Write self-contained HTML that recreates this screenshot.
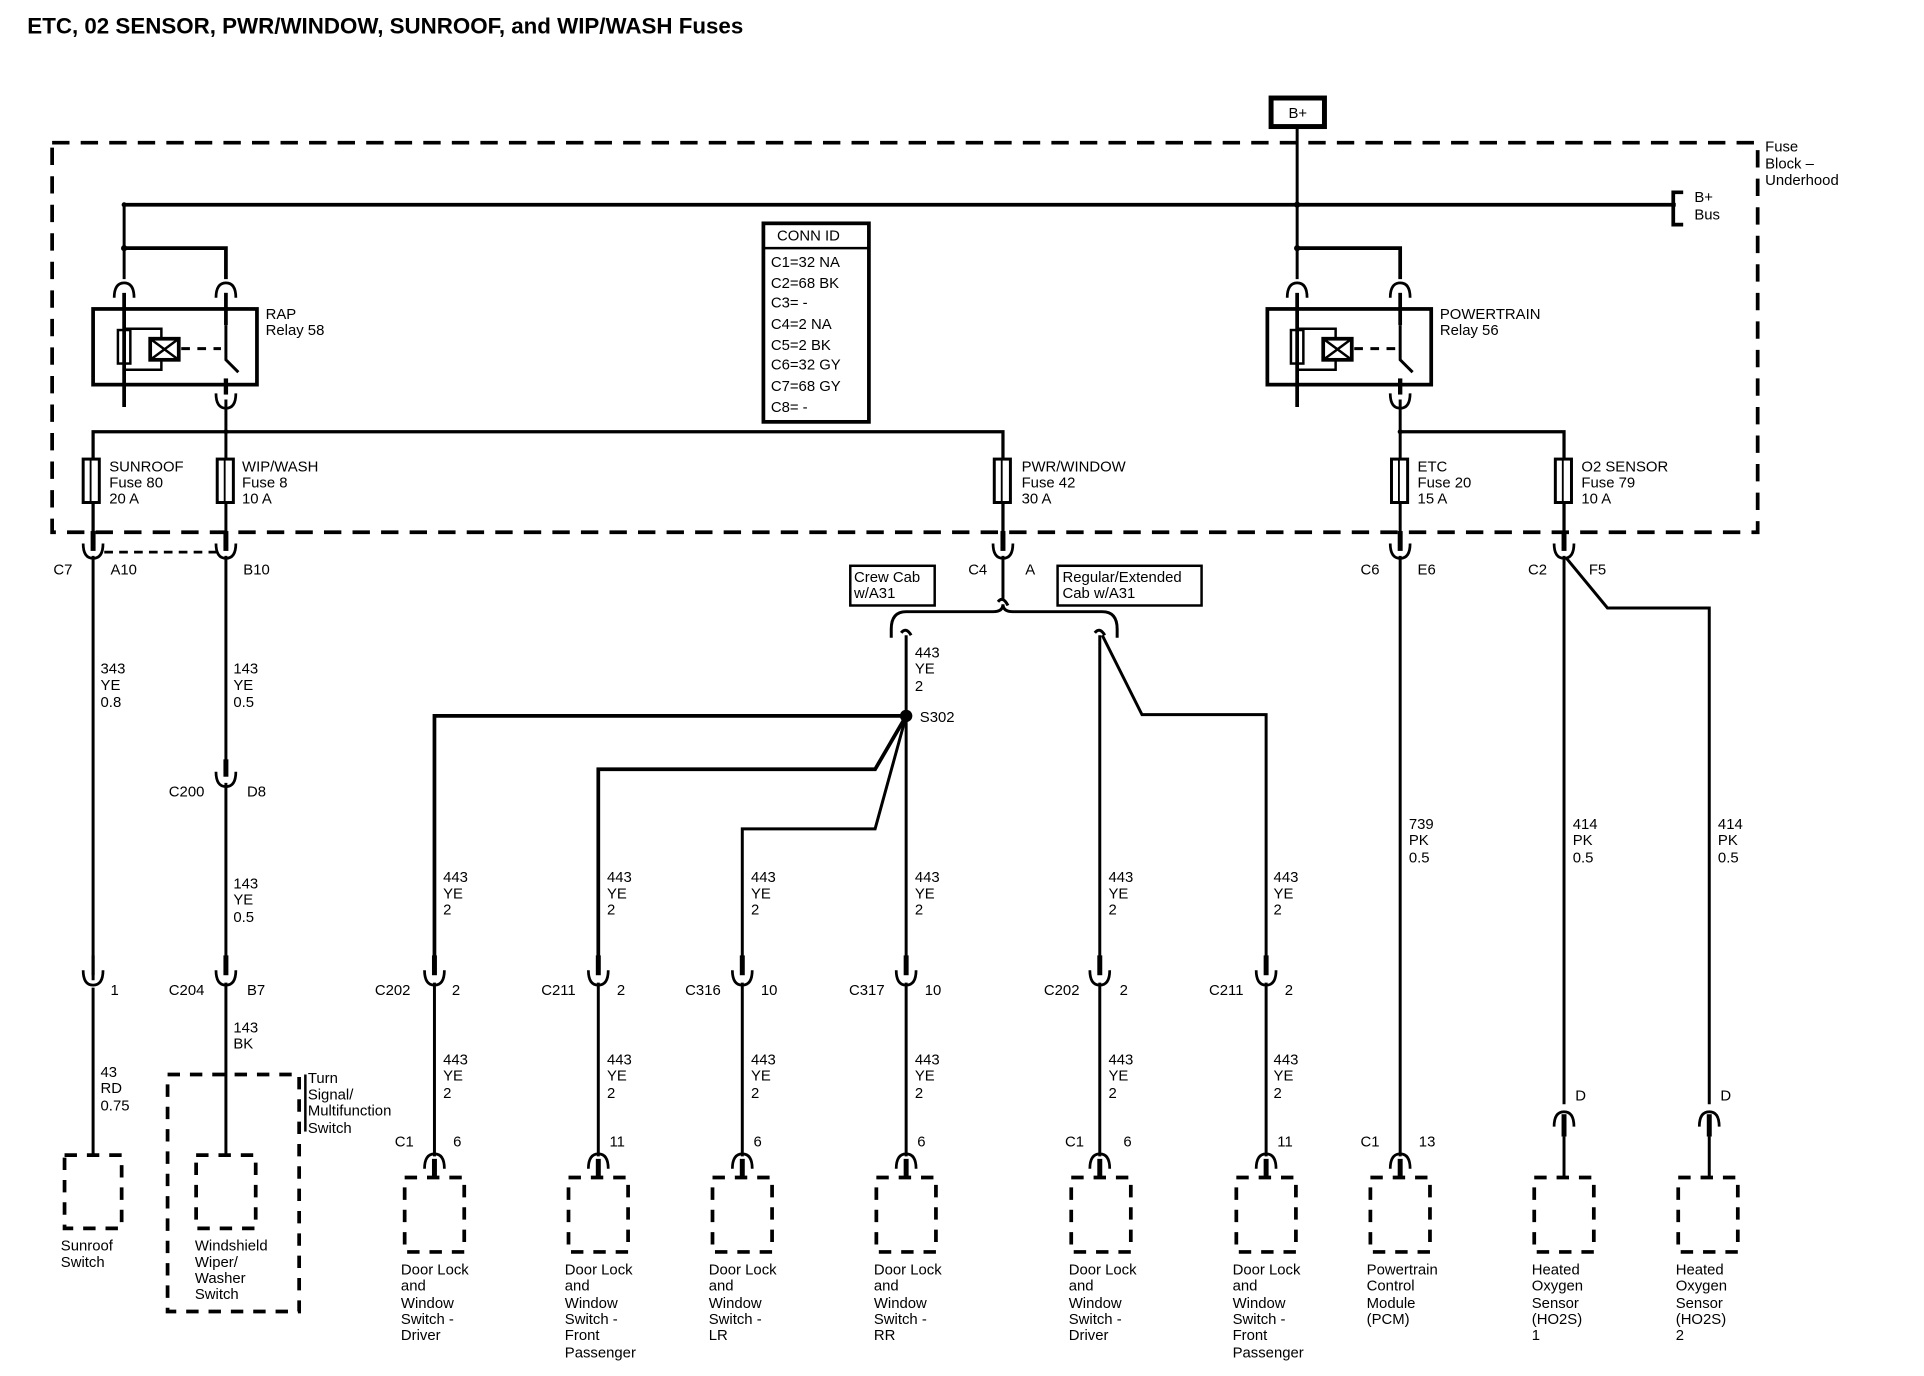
<!DOCTYPE html>
<html><head><meta charset="utf-8"><style>
html,body{margin:0;padding:0;background:#fff;}
svg{display:block;}
text{font-family:"Liberation Sans",sans-serif;font-size:12px;fill:#000;}
</style></head><body>
<svg width="1924" height="1376" viewBox="0 0 1550 1109" preserveAspectRatio="none" xmlns="http://www.w3.org/2000/svg">
<defs>
<g id="cup"><path d="M-8,-8 Q-8,4 0,4 Q8,4 8,-8" fill="none" stroke="#000" stroke-width="2.2"/></g>
<g id="cap"><path d="M-8,8 Q-8,-4 0,-4 Q8,-4 8,8" fill="none" stroke="#000" stroke-width="2.2"/></g>
</defs>
<text x="22" y="27" style="font-size:18px;font-weight:bold">ETC, 02 SENSOR, PWR/WINDOW, SUNROOF, and WIP/WASH Fuses</text>

<!-- B+ -->
<rect x="1024" y="79" width="43" height="23" fill="#fff" stroke="#000" stroke-width="4"/>
<text x="1038" y="95">B+</text>
<rect x="42" y="115" width="1374" height="314" fill="none" stroke="#000" stroke-width="3" stroke-dasharray="14,9"/>
<text x="1422" y="122">Fuse</text><text x="1422" y="136">Block –</text><text x="1422" y="149">Underhood</text>

<g stroke="#000" stroke-width="2.4" fill="none">
<line x1="1045" y1="103" x2="1045" y2="225"/>
<line x1="100" y1="165" x2="1350" y2="165" stroke-width="3"/>
<path d="M1356,155 H1348 V181 H1356" stroke-width="3"/>
<!-- left relay -->
<line x1="100" y1="165" x2="100" y2="225"/>
<path d="M100,200 H182 V225" stroke-width="3"/>
<line x1="100" y1="236" x2="100" y2="328" stroke-width="3"/>
<line x1="182" y1="236" x2="182" y2="262" stroke-width="3"/>
<path d="M182,262 L182,290 L192,300" />
<line x1="182" y1="305" x2="182" y2="318" stroke-width="3.5"/>
<rect x="75" y="249" width="132" height="61" stroke-width="3"/>
<rect x="95" y="266" width="10" height="27" stroke-width="2"/>
<path d="M100,265 H130 V273 M130,290 V298 H100" stroke-width="2"/>
<rect x="121" y="273" width="23" height="17" stroke-width="3"/>
<path d="M121,273 L144,290 M144,273 L121,290" stroke-width="2"/>
<line x1="146" y1="281" x2="178" y2="281" stroke-dasharray="7,6"/>
<!-- right relay -->
<path d="M1045,200 H1128 V225" stroke-width="3"/>
<line x1="1045" y1="236" x2="1045" y2="328" stroke-width="3"/>
<line x1="1128" y1="236" x2="1128" y2="262" stroke-width="3"/>
<path d="M1128,262 L1128,290 L1138,300"/>
<line x1="1128" y1="305" x2="1128" y2="318" stroke-width="3.5"/>
<rect x="1021" y="249" width="132" height="61" stroke-width="3"/>
<rect x="1040" y="266" width="10" height="27" stroke-width="2"/>
<path d="M1045,265 H1076 V273 M1076,290 V298 H1045" stroke-width="2"/>
<rect x="1066" y="273" width="23" height="17" stroke-width="3"/>
<path d="M1066,273 L1089,290 M1089,273 L1066,290" stroke-width="2"/>
<line x1="1091" y1="281" x2="1124" y2="281" stroke-dasharray="7,6"/>
<!-- buses -->
<path d="M75,440 V348 H808 V440" stroke-width="2.6"/>
<line x1="182" y1="322" x2="182" y2="440"/>
<line x1="1128" y1="322" x2="1128" y2="440"/>
<path d="M1128,348 H1260 V440" stroke-width="2.6"/>
<!-- fuses -->
<g fill="#fff" stroke-width="2.4">
<rect x="67" y="370" width="13" height="35"/><rect x="175" y="370" width="13" height="35"/>
<rect x="801" y="370" width="13" height="35"/><rect x="1121" y="370" width="13" height="35"/><rect x="1253" y="370" width="13" height="35"/>
</g>
<g stroke-width="1.5"><line x1="73" y1="370" x2="73" y2="405"/><line x1="181" y1="370" x2="181" y2="405"/><line x1="807" y1="370" x2="807" y2="405"/><line x1="1127" y1="370" x2="1127" y2="405"/><line x1="1259" y1="370" x2="1259" y2="405"/></g>
<!-- stubs at block connectors -->
<g stroke-width="4"><line x1="75" y1="428" x2="75" y2="444"/><line x1="182" y1="428" x2="182" y2="444"/><line x1="808" y1="428" x2="808" y2="444"/><line x1="1128" y1="428" x2="1128" y2="444"/><line x1="1260" y1="428" x2="1260" y2="444"/></g>
<line x1="84" y1="445" x2="176" y2="445" stroke-dasharray="7,5" stroke-width="2.2"/>
<!-- down wires -->
<line x1="75" y1="448" x2="75" y2="790"/>
<line x1="75" y1="796" x2="75" y2="932"/>
<line x1="182" y1="448" x2="182" y2="625"/>
<line x1="182" y1="631" x2="182" y2="785"/>
<line x1="182" y1="792" x2="182" y2="932"/>
<line x1="182" y1="612" x2="182" y2="626" stroke-width="4"/>
<line x1="182" y1="770" x2="182" y2="786" stroke-width="4"/>
<line x1="75" y1="770" x2="75" y2="786" stroke-width="2.5"/>
<line x1="808" y1="448" x2="808" y2="484"/>
<path d="M804,485 Q808,480 812,488" />
<path d="M718,514 V507 Q718,493 730,493 H800 Q808,493 808,487 Q808,493 816,493 H888 Q900,493 900,507 V514"/>
<path d="M726,510 Q730,505 734,512"/>
<path d="M882,510 Q886,505 890,512"/>
<line x1="730" y1="512" x2="730" y2="785"/>
<line x1="886" y1="512" x2="886" y2="785"/>
<path d="M888,512 L920,576 H1020 V785"/>
<path d="M730,577 H350 V785" stroke-width="3"/>
<path d="M730,577 L705,620 H482 V785" stroke-width="3"/>
<path d="M730,577 L705,668 H598 V785"/>
<path d="M1262,450 L1295,490 H1377 V890" />
<line x1="1128" y1="448" x2="1128" y2="932"/>
<line x1="1260" y1="448" x2="1260" y2="890"/>
<!-- mid connector stubs -->
<g stroke-width="4">
<line x1="350" y1="770" x2="350" y2="786"/><line x1="482" y1="770" x2="482" y2="786"/><line x1="598" y1="770" x2="598" y2="786"/><line x1="730" y1="770" x2="730" y2="786"/><line x1="886" y1="770" x2="886" y2="786"/><line x1="1020" y1="770" x2="1020" y2="786"/>
</g>
<g><line x1="350" y1="792" x2="350" y2="932"/><line x1="482" y1="792" x2="482" y2="932"/><line x1="598" y1="792" x2="598" y2="932"/><line x1="730" y1="792" x2="730" y2="932"/><line x1="886" y1="792" x2="886" y2="932"/><line x1="1020" y1="792" x2="1020" y2="932"/></g>
<!-- bottom stubs -->
<g stroke-width="4">
<line x1="350" y1="934" x2="350" y2="950"/><line x1="482" y1="934" x2="482" y2="950"/><line x1="598" y1="934" x2="598" y2="950"/><line x1="730" y1="934" x2="730" y2="950"/><line x1="886" y1="934" x2="886" y2="950"/><line x1="1020" y1="934" x2="1020" y2="950"/><line x1="1128" y1="934" x2="1128" y2="950"/><line x1="1260" y1="898" x2="1260" y2="916"/><line x1="1377" y1="898" x2="1377" y2="916"/>
</g>
<line x1="1260" y1="916" x2="1260" y2="950"/><line x1="1377" y1="916" x2="1377" y2="950"/>
<!-- component dashed boxes -->
<g stroke-width="3" stroke-dasharray="10,8">
<rect x="52" y="931" width="46" height="59"/><rect x="158" y="931" width="48" height="59"/>
<rect x="135" y="866" width="106" height="191"/>
<rect x="326" y="949" width="48" height="60"/><rect x="458" y="949" width="48" height="60"/><rect x="574" y="949" width="48" height="60"/><rect x="706" y="949" width="48" height="60"/><rect x="863" y="949" width="48" height="60"/><rect x="996" y="949" width="48" height="60"/><rect x="1104" y="949" width="48" height="60"/><rect x="1236" y="949" width="48" height="60"/><rect x="1352" y="949" width="48" height="60"/>
</g>
<line x1="246" y1="866" x2="246" y2="912" stroke-width="2"/>
</g>
<circle cx="730" cy="577" r="5" fill="#000"/>
<g fill="#000"><circle cx="100" cy="165" r="2"/><circle cx="1045" cy="165" r="2.5"/><circle cx="100" cy="200" r="2.5"/><circle cx="1045" cy="200" r="2.5"/><circle cx="182" cy="348" r="2"/><circle cx="1128" cy="348" r="2"/></g>

<!-- connector symbols -->
<use href="#cap" x="100" y="232"/><use href="#cap" x="182" y="232"/><use href="#cap" x="1045" y="232"/><use href="#cap" x="1128" y="232"/>
<use href="#cup" x="182" y="325"/><use href="#cup" x="1128" y="325"/>
<use href="#cup" x="75" y="446"/><use href="#cup" x="182" y="446"/><use href="#cup" x="808" y="446"/><use href="#cup" x="1128" y="446"/><use href="#cup" x="1260" y="446"/>
<use href="#cup" x="182" y="630"/><use href="#cup" x="75" y="790"/><use href="#cup" x="182" y="790"/>
<use href="#cup" x="350" y="790"/><use href="#cup" x="482" y="790"/><use href="#cup" x="598" y="790"/><use href="#cup" x="730" y="790"/><use href="#cup" x="886" y="790"/><use href="#cup" x="1020" y="790"/>
<use href="#cap" x="350" y="934"/><use href="#cap" x="482" y="934"/><use href="#cap" x="598" y="934"/><use href="#cap" x="730" y="934"/><use href="#cap" x="886" y="934"/><use href="#cap" x="1020" y="934"/><use href="#cap" x="1128" y="934"/><use href="#cap" x="1260" y="900"/><use href="#cap" x="1377" y="900"/>

<!-- CONN ID -->
<rect x="615" y="180" width="85" height="160" fill="#fff" stroke="#000" stroke-width="3"/>
<line x1="615" y1="200" x2="700" y2="200" stroke="#000" stroke-width="2"/>
<text x="626" y="194">CONN ID</text>
<text x="621" y="215">C1=32 NA</text><text x="621" y="232">C2=68 BK</text><text x="621" y="248">C3= -</text><text x="621" y="265">C4=2 NA</text><text x="621" y="282">C5=2 BK</text><text x="621" y="298">C6=32 GY</text><text x="621" y="315">C7=68 GY</text><text x="621" y="332">C8= -</text>

<g style="font-size:12px">
<text x="1365" y="163">B+</text><text x="1365" y="177">Bus</text>
<text x="214" y="257">RAP</text><text x="214" y="270">Relay 58</text>
<text x="1160" y="257">POWERTRAIN</text><text x="1160" y="270">Relay 56</text>
<text x="88" y="380">SUNROOF</text><text x="88" y="393">Fuse 80</text><text x="88" y="406">20 A</text>
<text x="195" y="380">WIP/WASH</text><text x="195" y="393">Fuse 8</text><text x="195" y="406">10 A</text>
<text x="823" y="380">PWR/WINDOW</text><text x="823" y="393">Fuse 42</text><text x="823" y="406">30 A</text>
<text x="1142" y="380">ETC</text><text x="1142" y="393">Fuse 20</text><text x="1142" y="406">15 A</text>
<text x="1274" y="380">O2 SENSOR</text><text x="1274" y="393">Fuse 79</text><text x="1274" y="406">10 A</text>
<text x="43" y="463">C7</text><text x="89" y="463">A10</text><text x="196" y="463">B10</text>
<text x="780" y="463">C4</text><text x="826" y="463">A</text>
<text x="1096" y="463">C6</text><text x="1142" y="463">E6</text>
<text x="1231" y="463">C2</text><text x="1280" y="463">F5</text>
<text x="81" y="543">343</text><text x="81" y="556">YE</text><text x="81" y="570">0.8</text>
<text x="188" y="543">143</text><text x="188" y="556">YE</text><text x="188" y="570">0.5</text>
<text x="737" y="530">443</text><text x="737" y="543">YE</text><text x="737" y="557">2</text>
<text x="741" y="582">S302</text>
<text x="136" y="642">C200</text><text x="199" y="642">D8</text>
<text x="188" y="716">143</text><text x="188" y="729">YE</text><text x="188" y="743">0.5</text>
<text x="89" y="802">1</text><text x="136" y="802">C204</text><text x="199" y="802">B7</text>
<text x="188" y="832">143</text><text x="188" y="845">BK</text>
<text x="81" y="868">43</text><text x="81" y="881">RD</text><text x="81" y="895">0.75</text>
<text x="248" y="873">Turn</text><text x="248" y="886">Signal/</text><text x="248" y="899">Multifunction</text><text x="248" y="913">Switch</text>
<text x="49" y="1008">Sunroof</text><text x="49" y="1021">Switch</text>
<text x="157" y="1008">Windshield</text><text x="157" y="1021">Wiper/</text><text x="157" y="1034">Washer</text><text x="157" y="1047">Switch</text>
<text x="1135" y="668">739</text><text x="1135" y="681">PK</text><text x="1135" y="695">0.5</text>
<text x="1267" y="668">414</text><text x="1267" y="681">PK</text><text x="1267" y="695">0.5</text>
<text x="1384" y="668">414</text><text x="1384" y="681">PK</text><text x="1384" y="695">0.5</text>
<text x="1269" y="887">D</text><text x="1386" y="887">D</text>
</g>
<g style="font-size:12px">
<text x="357" y="711">443</text><text x="357" y="724">YE</text><text x="357" y="737">2</text>
<text x="489" y="711">443</text><text x="489" y="724">YE</text><text x="489" y="737">2</text>
<text x="605" y="711">443</text><text x="605" y="724">YE</text><text x="605" y="737">2</text>
<text x="737" y="711">443</text><text x="737" y="724">YE</text><text x="737" y="737">2</text>
<text x="893" y="711">443</text><text x="893" y="724">YE</text><text x="893" y="737">2</text>
<text x="1026" y="711">443</text><text x="1026" y="724">YE</text><text x="1026" y="737">2</text>
<text x="302" y="802">C202</text><text x="364" y="802">2</text>
<text x="436" y="802">C211</text><text x="497" y="802">2</text>
<text x="552" y="802">C316</text><text x="613" y="802">10</text>
<text x="684" y="802">C317</text><text x="745" y="802">10</text>
<text x="841" y="802">C202</text><text x="902" y="802">2</text>
<text x="974" y="802">C211</text><text x="1035" y="802">2</text>
<text x="357" y="858">443</text><text x="357" y="871">YE</text><text x="357" y="885">2</text>
<text x="489" y="858">443</text><text x="489" y="871">YE</text><text x="489" y="885">2</text>
<text x="605" y="858">443</text><text x="605" y="871">YE</text><text x="605" y="885">2</text>
<text x="737" y="858">443</text><text x="737" y="871">YE</text><text x="737" y="885">2</text>
<text x="893" y="858">443</text><text x="893" y="871">YE</text><text x="893" y="885">2</text>
<text x="1026" y="858">443</text><text x="1026" y="871">YE</text><text x="1026" y="885">2</text>
<text x="318" y="924">C1</text><text x="365" y="924">6</text>
<text x="491" y="924">11</text><text x="607" y="924">6</text><text x="739" y="924">6</text>
<text x="858" y="924">C1</text><text x="905" y="924">6</text>
<text x="1029" y="924">11</text>
<text x="1096" y="924">C1</text><text x="1143" y="924">13</text>
</g>
<g style="font-size:12px">
<text x="323" y="1027">Door Lock</text><text x="323" y="1040">and</text><text x="323" y="1054">Window</text><text x="323" y="1067">Switch -</text><text x="323" y="1080">Driver</text>
<text x="455" y="1027">Door Lock</text><text x="455" y="1040">and</text><text x="455" y="1054">Window</text><text x="455" y="1067">Switch -</text><text x="455" y="1080">Front</text><text x="455" y="1094">Passenger</text>
<text x="571" y="1027">Door Lock</text><text x="571" y="1040">and</text><text x="571" y="1054">Window</text><text x="571" y="1067">Switch -</text><text x="571" y="1080">LR</text>
<text x="704" y="1027">Door Lock</text><text x="704" y="1040">and</text><text x="704" y="1054">Window</text><text x="704" y="1067">Switch -</text><text x="704" y="1080">RR</text>
<text x="861" y="1027">Door Lock</text><text x="861" y="1040">and</text><text x="861" y="1054">Window</text><text x="861" y="1067">Switch -</text><text x="861" y="1080">Driver</text>
<text x="993" y="1027">Door Lock</text><text x="993" y="1040">and</text><text x="993" y="1054">Window</text><text x="993" y="1067">Switch -</text><text x="993" y="1080">Front</text><text x="993" y="1094">Passenger</text>
<text x="1101" y="1027">Powertrain</text><text x="1101" y="1040">Control</text><text x="1101" y="1054">Module</text><text x="1101" y="1067">(PCM)</text>
<text x="1234" y="1027">Heated</text><text x="1234" y="1040">Oxygen</text><text x="1234" y="1054">Sensor</text><text x="1234" y="1067">(HO2S)</text><text x="1234" y="1080">1</text>
<text x="1350" y="1027">Heated</text><text x="1350" y="1040">Oxygen</text><text x="1350" y="1054">Sensor</text><text x="1350" y="1067">(HO2S)</text><text x="1350" y="1080">2</text>
</g>
<!-- cab boxes -->
<rect x="685" y="456" width="68" height="32" fill="#fff" stroke="#000" stroke-width="2"/>
<text x="688" y="469">Crew Cab</text><text x="688" y="482">w/A31</text>
<rect x="852" y="456" width="116" height="32" fill="#fff" stroke="#000" stroke-width="2"/>
<text x="856" y="469">Regular/Extended</text><text x="856" y="482">Cab w/A31</text>
</svg>
</body></html>
